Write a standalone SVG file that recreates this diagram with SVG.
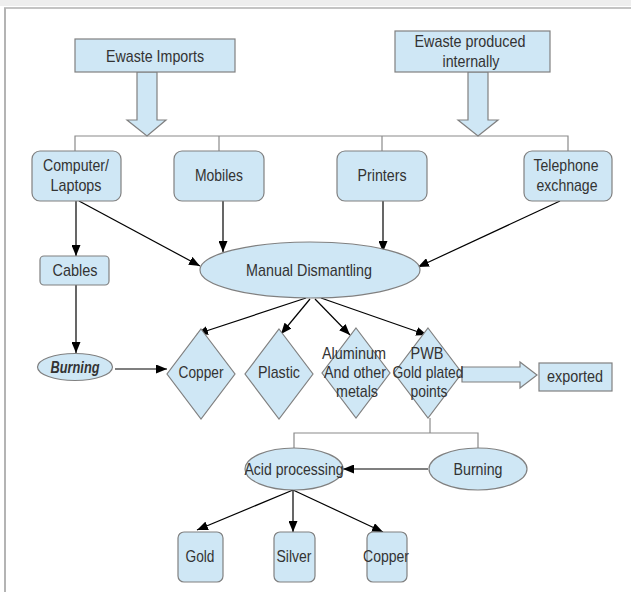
<svg xmlns="http://www.w3.org/2000/svg" width="631" height="592" viewBox="0 0 631 592">
<defs>
<marker id="ah" markerUnits="userSpaceOnUse" markerWidth="11" markerHeight="9" refX="11" refY="4.5" orient="auto">
<path d="M0,0 L11,4.5 L0,9 z" fill="#000"/>
</marker>
<style>
.n{fill:#cfe7f5;stroke:#808080;stroke-width:1.2}
.t{font-family:"Liberation Sans",Arial,sans-serif;font-size:17px;fill:#333;text-anchor:middle}
.c{stroke:#000;stroke-width:1.2;fill:none;marker-end:url(#ah)}
.g{stroke:#8a8a8a;stroke-width:1.2;fill:none}
</style>
</defs>
<rect x="0" y="0" width="631" height="592" fill="#fff"/>
<rect x="0" y="0" width="631" height="6" fill="#eeeeee"/>
<line x1="4" y1="8" x2="631" y2="8" stroke="#c4c4c4" stroke-width="2"/>
<line x1="5" y1="8" x2="5" y2="592" stroke="#b4b4b4" stroke-width="2"/>

<g id="connectors">
<polyline class="g" points="75,151 75,136 568,136 568,151"/>
<line class="g" x1="219" y1="136" x2="219" y2="151"/>
<line class="g" x1="382" y1="136" x2="382" y2="151"/>
<polyline class="g" points="294,448 294,433 478,433 478,448"/>
<line class="g" x1="430" y1="418" x2="430" y2="433"/>
<line class="c" x1="76" y1="201" x2="76" y2="256"/>
<line class="c" x1="79" y1="201" x2="200" y2="266"/>
<line class="c" x1="223" y1="201" x2="223" y2="252"/>
<line class="c" x1="383" y1="201" x2="383" y2="252"/>
<line class="c" x1="560" y1="201" x2="418" y2="267"/>
<line class="c" x1="76" y1="285" x2="76" y2="353"/>
<line class="c" x1="115" y1="369" x2="167" y2="369"/>
<line class="c" x1="306" y1="298" x2="197" y2="334"/>
<line class="c" x1="310" y1="299" x2="281" y2="334"/>
<line class="c" x1="315" y1="299" x2="350" y2="335"/>
<line class="c" x1="321" y1="298" x2="427" y2="335"/>
<line class="c" x1="428" y1="469" x2="343" y2="469"/>
<line class="c" x1="293" y1="490" x2="197" y2="530"/>
<line class="c" x1="293" y1="490" x2="293" y2="532"/>
<line class="c" x1="293" y1="490" x2="383" y2="532"/>
</g>

<g id="arrow-imports"><polygon class="n" points="137,72 157,72 157,120 166,120 147,136 127,120 137,120"/></g>
<g id="arrow-internal"><polygon class="n" points="468,72 488,72 488,120 498,120 478,136 458,120 468,120"/></g>
<g id="arrow-exported"><polygon class="n" points="462,367 520,367 520,362 537,375 520,388 520,382 462,382"/></g>

<g id="imports"><rect class="n" x="75" y="39" width="160" height="33"/>
<text class="t" x="155" y="62" textLength="98" lengthAdjust="spacingAndGlyphs">Ewaste Imports</text></g>
<g id="internal"><rect class="n" x="395" y="31" width="155" height="41"/>
<text class="t" x="470" y="47" textLength="111" lengthAdjust="spacingAndGlyphs">Ewaste produced</text>
<text class="t" x="471" y="67" textLength="57" lengthAdjust="spacingAndGlyphs">internally</text></g>

<g id="computer"><rect class="n" x="32" y="151" width="89" height="50" rx="8"/>
<text class="t" x="76" y="171" textLength="66" lengthAdjust="spacingAndGlyphs">Computer/</text>
<text class="t" x="76" y="191" textLength="51" lengthAdjust="spacingAndGlyphs">Laptops</text></g>
<g id="mobiles"><rect class="n" x="174" y="151" width="90" height="50" rx="8"/>
<text class="t" x="219" y="181" textLength="48" lengthAdjust="spacingAndGlyphs">Mobiles</text></g>
<g id="printers"><rect class="n" x="337" y="151" width="90" height="50" rx="8"/>
<text class="t" x="382" y="181" textLength="49" lengthAdjust="spacingAndGlyphs">Printers</text></g>
<g id="telephone"><rect class="n" x="524" y="151" width="88" height="50" rx="8"/>
<text class="t" x="566" y="171" textLength="65" lengthAdjust="spacingAndGlyphs">Telephone</text>
<text class="t" x="567" y="191" textLength="61" lengthAdjust="spacingAndGlyphs">exchnage</text></g>

<g id="cables"><rect class="n" x="40" y="256" width="69" height="29" rx="4"/>
<text class="t" x="75" y="276" textLength="45" lengthAdjust="spacingAndGlyphs">Cables</text></g>
<g id="manual"><ellipse class="n" cx="310" cy="270" rx="110" ry="28"/>
<text class="t" x="309" y="276" textLength="126" lengthAdjust="spacingAndGlyphs">Manual Dismantling</text></g>

<g id="burning1"><ellipse class="n" cx="75" cy="367" rx="37.5" ry="13.5"/>
<text class="t" x="75" y="373" font-size="15" font-weight="bold" font-style="italic" textLength="49" lengthAdjust="spacingAndGlyphs">Burning</text></g>

<g id="copper"><polygon class="n" points="201,329 235,374 201,419 167,374"/>
<text class="t" x="201" y="378" textLength="45" lengthAdjust="spacingAndGlyphs">Copper</text></g>
<g id="plastic"><polygon class="n" points="279,329 313,374 279,419 245,374"/>
<text class="t" x="279" y="378" textLength="42" lengthAdjust="spacingAndGlyphs">Plastic</text></g>
<g id="aluminum"><polygon class="n" points="356,328 390,373 356,418 322,373"/>
<text class="t" x="354" y="359" textLength="64" lengthAdjust="spacingAndGlyphs">Aluminum</text>
<text class="t" x="355" y="378" textLength="62" lengthAdjust="spacingAndGlyphs">And other</text>
<text class="t" x="357" y="397" textLength="42" lengthAdjust="spacingAndGlyphs">metals</text></g>
<g id="pwb"><polygon class="n" points="428,328 462,373 428,418 394,373"/>
<text class="t" x="427" y="359" textLength="33" lengthAdjust="spacingAndGlyphs">PWB</text>
<text class="t" x="428" y="378" textLength="71" lengthAdjust="spacingAndGlyphs">Gold plated</text>
<text class="t" x="429" y="397" textLength="37" lengthAdjust="spacingAndGlyphs">points</text></g>

<g id="exported"><rect class="n" x="539" y="363" width="73" height="28"/>
<text class="t" x="575" y="382" textLength="56" lengthAdjust="spacingAndGlyphs">exported</text></g>

<g id="acid"><ellipse class="n" cx="294" cy="469" rx="49" ry="21"/>
<text class="t" x="294" y="475" textLength="99" lengthAdjust="spacingAndGlyphs">Acid processing</text></g>
<g id="burning2"><ellipse class="n" cx="478" cy="469" rx="49" ry="21"/>
<text class="t" x="478" y="475" textLength="49" lengthAdjust="spacingAndGlyphs">Burning</text></g>

<g id="gold"><rect class="n" x="178" y="532" width="45" height="50" rx="6"/>
<text class="t" x="200" y="562" textLength="29" lengthAdjust="spacingAndGlyphs">Gold</text></g>
<g id="silver"><rect class="n" x="274" y="532" width="41" height="50" rx="6"/>
<text class="t" x="294" y="562" textLength="35" lengthAdjust="spacingAndGlyphs">Silver</text></g>
<g id="copper2"><rect class="n" x="367" y="532" width="40" height="50" rx="6"/>
<text class="t" x="386" y="562" textLength="46" lengthAdjust="spacingAndGlyphs">Copper</text></g>
</svg>
